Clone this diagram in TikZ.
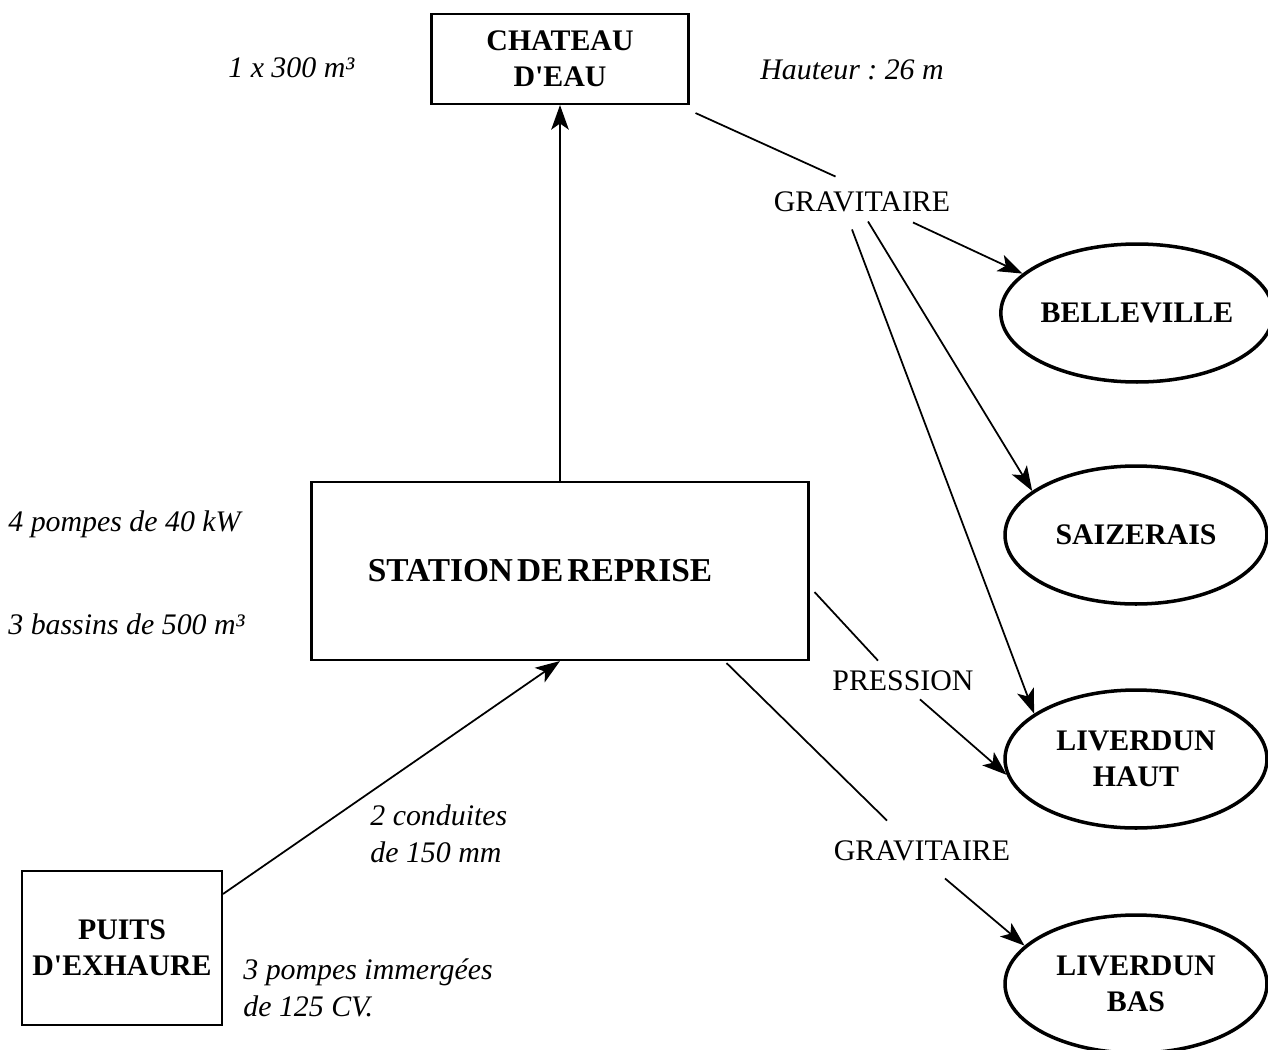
\documentclass[tikz,border=0pt]{standalone}
\usepackage{fontspec}
\setmainfont{Liberation Serif}[Ligatures=TeXOff]
\usetikzlibrary{shapes.geometric,arrows.meta,calc}
\frenchspacing

\begin{document}
\begin{tikzpicture}[x=0.02cm, y=-0.02cm,
    every node/.style={font=\fontsize{17}{20.5}\selectfont},
    box/.style={draw, line width=1.2pt, align=center, inner sep=0pt,
      font=\fontsize{17}{20.5}\selectfont\bfseries},
    town/.style={ellipse, draw, line width=2pt, align=center, inner sep=0pt,
      minimum width=5.24cm, minimum height=2.76cm,
      font=\fontsize{17}{20.5}\selectfont\bfseries},
    note/.style={anchor=west, align=left, inner sep=0pt,
      font=\fontsize{17}{21}\selectfont\itshape},
    tag/.style={inner sep=0pt},
    pipe/.style={line width=1pt},
    flow/.style={line width=1pt, -{Stealth[length=14pt, width=10pt, inset=3.5pt]}}]
    \useasboundingbox (0,0) rectangle (1268,1049);

    % Boxes
    \node[box, minimum width=5.14cm, minimum height=1.8cm] (chateau) at (560,59) {CHATEAU\\D'EAU};
    \node[box, minimum width=9.94cm, minimum height=3.56cm,
      font=\fontsize{19}{22}\selectfont\bfseries] (station) at (560,571) {STATION\hspace{0.12em}DE\hspace{0.12em}REPRISE\hspace*{1.2em}};
    \node[box, minimum width=4cm, minimum height=3.08cm] (puits) at (122,948) {PUITS\\D'EXHAURE};

    % Towns
    \node[town] (belle) at (1137,313) {BELLEVILLE};
    \node[town] (saiz) at (1136,535) {SAIZERAIS};
    \node[town] (haut) at (1136,759) {LIVERDUN\\HAUT};
    \node[town] (bas) at (1136,984) {LIVERDUN\\BAS};

    % Notes
    \node[note] at (228,68) {1 x 300 m³};
    \node[note] at (760,70) {Hauteur : 26 m};
    \node[note] at (8,524) {4 pompes de 40 kW};
    \node[note] at (8,624) {3 bassins de 500 m³};
    \node[note] at (370,834) {2 conduites\\de 150 mm};
    \node[note] at (243,988) {3 pompes immergées\\de 125 CV.};

    % Line labels
    \node[tag] (grav1) at (862,202) {GRAVITAIRE};
    \node[tag] (press) at (903,681) {PRESSION};
    \node[tag] (grav2) at (922,851) {GRAVITAIRE};

    % Connectors
    \draw[flow] ([yshift=-0.48cm]puits.north east) -- (station.south);
    \draw[flow] (station.north) -- (chateau.south);
    \draw[pipe] ($(chateau.south east)+(6,8)$) -- ($(grav1.north west)+(62,-15)$);
    \draw[flow] ($(grav1.south)+(51,10)$) -- (belle.161);
    \draw[flow] ($(grav1.south)+(6,9)$) -- (saiz.157);
    \draw[flow] ($(grav1.south)+(-10,17)$) -- (haut.156);
    \draw[pipe] ($(station.east)+(5,21)$) -- ($(press.north)+(-25,-10)$);
    \draw[flow] ($(press.south)+(17,8)$) -- (haut.187);
    \draw[pipe] ($(station.south east)+(-83,2)$) -- ($(grav2.north)+(-35,-20)$);
    \draw[flow] ($(grav2.south)+(23,17)$) -- (bas.161);
\end{tikzpicture}
\end{document}
